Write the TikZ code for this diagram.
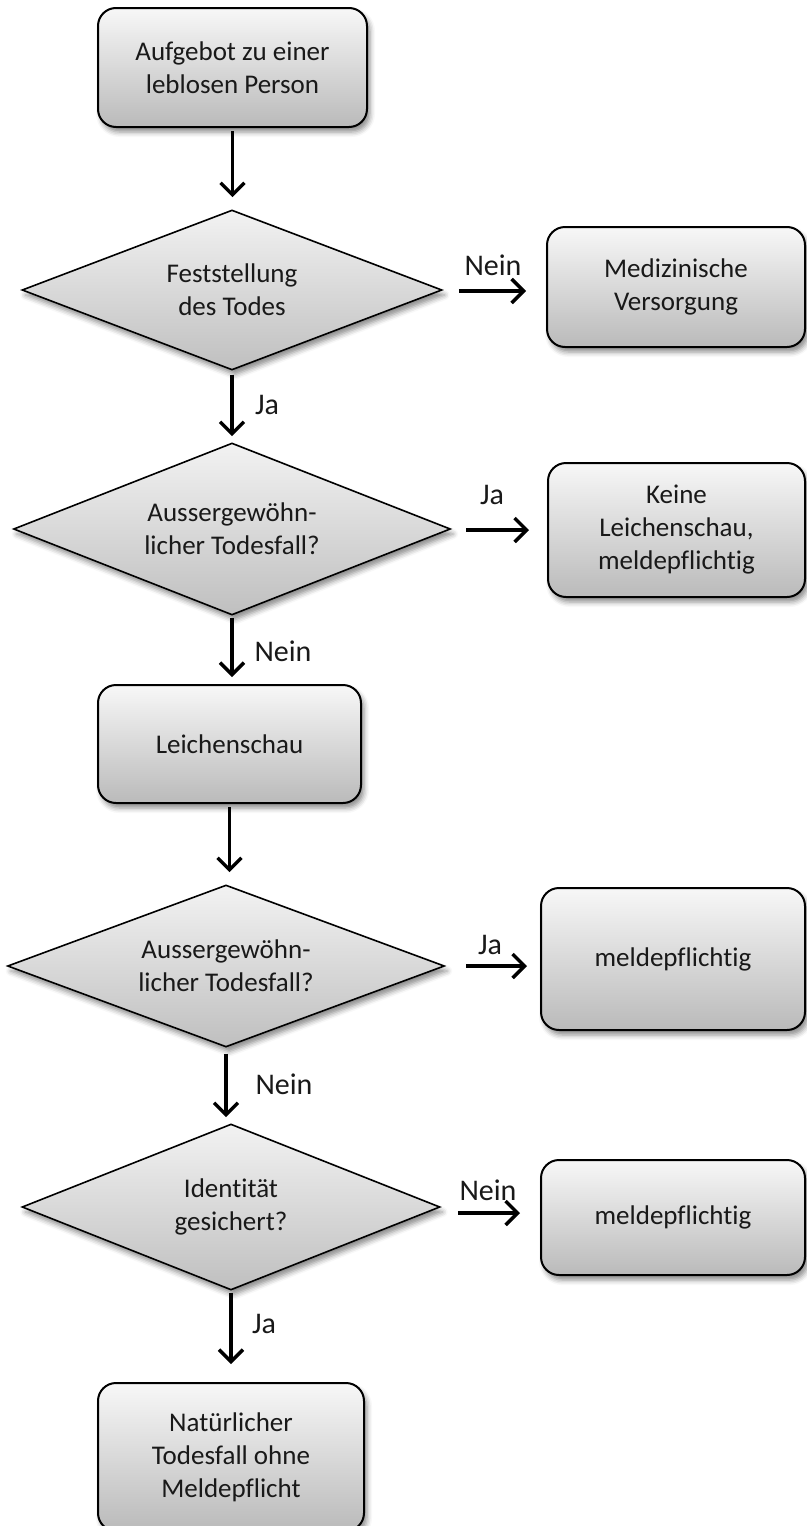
\documentclass[tikz,border=0pt]{standalone}
\usepackage{fontspec}
\setmainfont{Carlito}[Ligatures={NoCommon}]
\usetikzlibrary{shapes.geometric,arrows.meta,shadows.blur}
\begin{document}
\begin{tikzpicture}[x=1pt,y=-1pt,
  every node/.style={font=\fontsize{27}{33}\selectfont, text=black!90},
  shadowed/.style={blur shadow={shadow xshift=3pt, shadow yshift=-5pt, shadow blur radius=5pt, shadow opacity=45}},
  box/.style={draw=black, line width=2pt, rounded corners=18pt, top color=white!97!black, bottom color=black!27, align=center, inner sep=0pt, shadowed},
  dec/.style={diamond, draw=black, line width=1.6pt, aspect=2.5, top color=white!95!black, bottom color=black!25, align=center, inner sep=0pt, shadowed},
  arr/.style={line width=3.4pt, -{Straight Barb[length=12pt,width=24pt]}},
  lbl/.style={inner sep=0pt, font=\fontsize{30}{36}\selectfont}
]
\useasboundingbox (0,0) rectangle (806,1526);

% boxes and decisions
\node[box, minimum width=269pt, minimum height=119pt] (b1) at (232.5,67.5) {Aufgebot zu einer\\leblosen Person};
\node[dec, minimum width=420pt, minimum height=160pt] (d1) at (232,290) {Feststellung\\des Todes};
\node[box, minimum width=258pt, minimum height=120pt] (m1) at (676,287) {Medizinische\\Versorgung};
\node[dec, minimum width=437pt, minimum height=172pt] (d2) at (232,529) {Aussergewöhn-\\licher Todesfall?};
\node[box, minimum width=257pt, minimum height=134pt] (k1) at (676.5,530) {Keine\\Leichenschau,\\meldepflichtig};
\node[box, minimum width=263pt, minimum height=118pt] (b2) at (229.5,744) {Leichenschau};
\node[dec, minimum width=437pt, minimum height=162pt] (d3) at (226,966) {Aussergewöhn-\\licher Todesfall?};
\node[box, minimum width=264pt, minimum height=142pt] (m2) at (673,959) {meldepflichtig};
\node[dec, minimum width=418pt, minimum height=166pt] (d4) at (231,1207) {Identität\\gesichert?};
\node[box, minimum width=264pt, minimum height=115pt] (m3) at (673,1217.5) {meldepflichtig};
\node[box, minimum width=266pt, minimum height=148pt] (b3) at (231,1457) {Natürlicher\\Todesfall ohne\\Meldepflicht};

% vertical connectors
\draw[arr] ([yshift=-3pt]b1.south) -- ([yshift=12pt]b1.south |- d1.north);
\draw[arr] ([yshift=-4pt]d1.south) -- ([yshift=6pt]d2.north);
\draw[arr] ([yshift=-2pt]d2.south) -- ([yshift=7pt]d2.south |- b2.north);
\draw[arr] ([yshift=-3pt]b2.south) -- ([yshift=12pt]b2.south |- d3.north);
\draw[arr] ([yshift=-6pt]d3.south) -- ([yshift=6pt]d3.south |- d4.north);
\draw[arr] ([yshift=-2pt]d4.south) -- ([yshift=18pt]d4.south |- b3.north);

% horizontal connectors
\draw[arr] ([xshift=16pt,yshift=-1pt]d1.east) -- ([xshift=-20pt,yshift=-1pt]d1.east -| m1.west);
\draw[arr] ([xshift=15pt,yshift=-1pt]d2.east) -- ([xshift=-18pt,yshift=-1pt]d2.east -| k1.west);
\draw[arr] ([xshift=21pt]d3.east) -- ([xshift=-13pt]d3.east -| m2.west);
\draw[arr] ([xshift=17pt,yshift=-6pt]d4.east) -- ([xshift=-20pt,yshift=-6pt]d4.east -| m3.west);

% labels
\node[lbl] (l1) at (493,265) {Nein};
\node[lbl] (l2) at (267,405) {Ja};
\node[lbl] (l3) at (492,495) {Ja};
\node[lbl] (l4) at (283,651) {Nein};
\node[lbl] (l5) at (490,945) {Ja};
\node[lbl] (l6) at (284,1084) {Nein};
\node[lbl] (l7) at (488,1190) {Nein};
\node[lbl] (l8) at (264,1324) {Ja};
\end{tikzpicture}
\end{document}
